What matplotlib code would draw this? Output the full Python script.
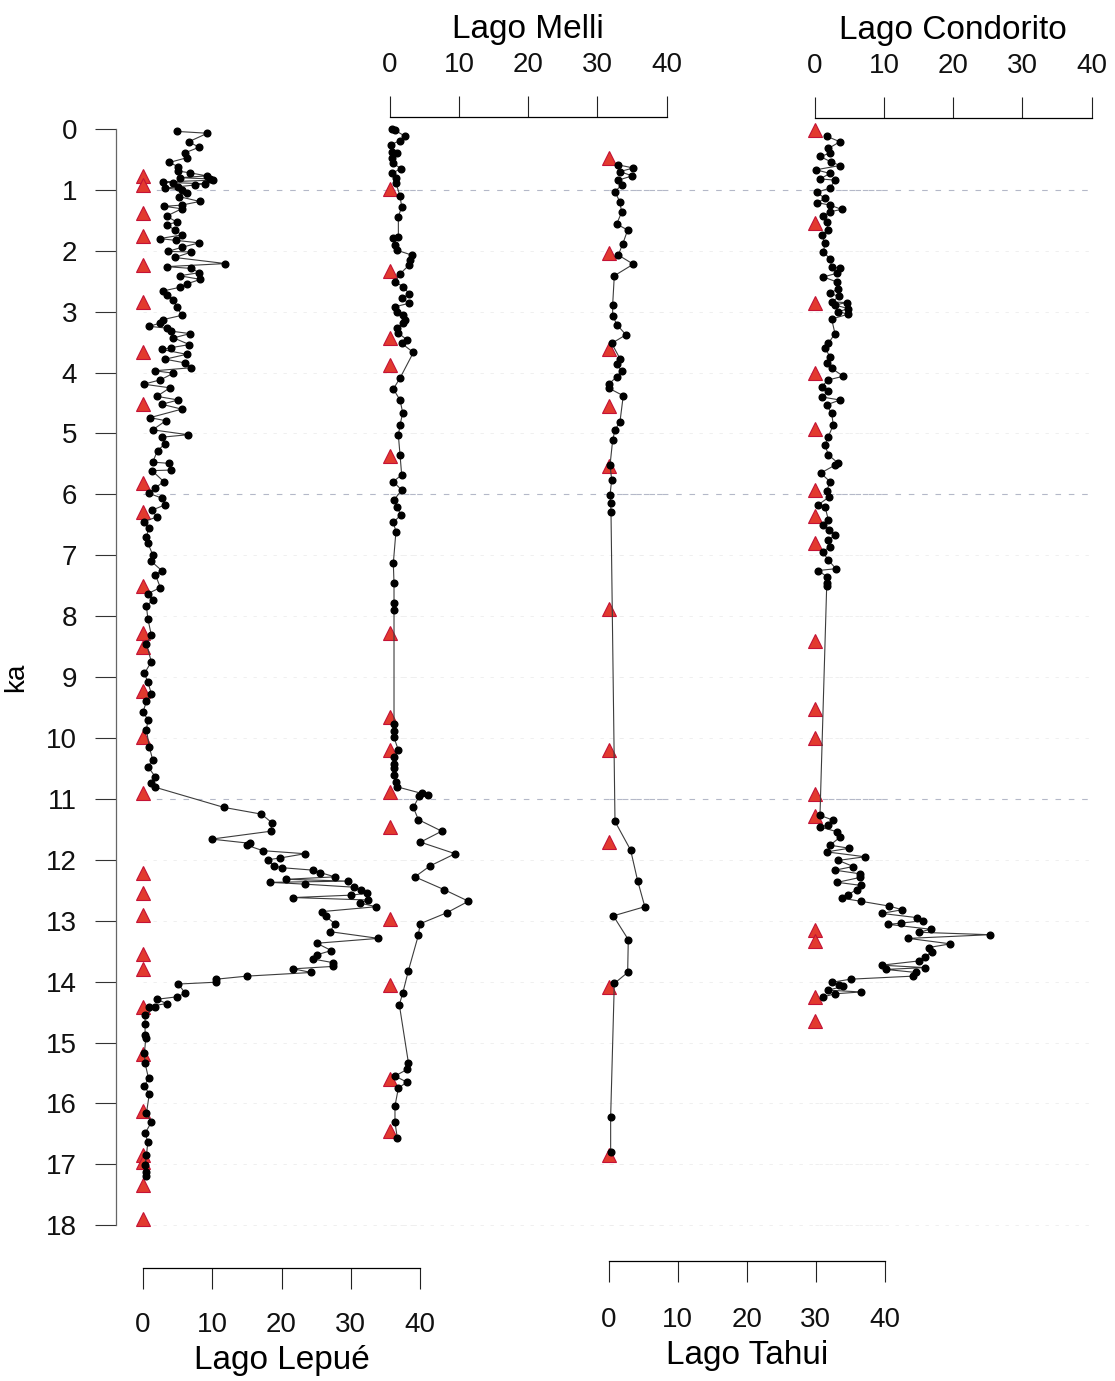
import numpy as np
import matplotlib
matplotlib.use('Agg')
import matplotlib.pyplot as plt

plt.rcParams['font.family'] = ['Liberation Sans', 'DejaVu Sans']

# ---- data (ka, value) ----
lepue_age = [0.04, 0.07, 0.21, 0.30, 0.39, 0.47, 0.55, 0.62, 0.69, 0.72, 0.77, 0.80, 0.82, 0.84, 0.87,
             0.88, 0.90, 0.92, 0.95, 0.97, 1.00, 1.05, 1.11, 1.19, 1.25, 1.27, 1.31, 1.43, 1.53, 1.57,
             1.66, 1.74, 1.80, 1.83, 1.87, 1.94, 2.01, 2.02, 2.11, 2.21, 2.26, 2.29, 2.36, 2.41, 2.47,
             2.54, 2.60, 2.66, 2.72, 2.80, 2.92, 3.06, 3.13, 3.19, 3.24, 3.27, 3.32, 3.36, 3.43, 3.54,
             3.59, 3.62, 3.70, 3.78, 3.84, 3.92, 3.97, 4.01, 4.12, 4.19, 4.25, 4.39, 4.45, 4.52, 4.60,
             4.74, 4.79, 4.94, 5.02, 5.06, 5.17, 5.28, 5.47, 5.49, 5.60, 5.61, 5.79, 5.90, 5.98, 6.06,
             6.17, 6.26, 6.37, 6.45, 6.56, 6.70, 6.80, 6.99, 7.10, 7.25, 7.32, 7.53, 7.63, 7.73, 7.84,
             8.04, 8.31, 8.45, 8.75, 8.94, 9.08, 9.27, 9.40, 9.57, 9.70, 9.87, 10.14, 10.36, 10.47,
             10.64, 10.74, 10.81, 11.14, 11.25, 11.39, 11.53, 11.66, 11.73, 11.76, 11.85, 11.90,
             11.97, 12.00, 12.10, 12.13, 12.17, 12.21, 12.28, 12.32, 12.35, 12.37, 12.40, 12.45,
             12.50, 12.55, 12.58, 12.62, 12.66, 12.71, 12.77, 12.85, 12.93, 13.05, 13.18, 13.29,
             13.37, 13.49, 13.56, 13.63, 13.69, 13.75, 13.79, 13.85, 13.91, 13.96, 14.01, 14.04,
             14.19, 14.25, 14.29, 14.36, 14.41, 14.42, 14.55, 14.69, 14.88, 14.93, 15.18, 15.34,
             15.59, 15.71, 15.85, 16.16, 16.31, 16.49, 16.63, 16.85, 17.01, 17.12, 17.20]
lepue_val = [4.9, 9.3, 6.6, 8.1, 6.1, 6.4, 3.8, 5.1, 5.0, 6.8, 9.2, 5.3, 9.7, 10.1, 2.9,
             4.3, 8.9, 7.5, 5.0, 3.2, 5.7, 6.4, 5.2, 8.2, 5.6, 3.1, 5.6, 3.4, 4.9, 3.4,
             4.6, 5.6, 2.4, 4.8, 8.1, 5.7, 3.6, 7.0, 4.6, 11.9, 3.4, 7.0, 8.1, 5.3, 8.3,
             6.4, 5.3, 2.9, 3.4, 4.3, 4.9, 5.6, 2.9, 2.4, 0.9, 3.4, 4.1, 6.8, 4.4, 6.7,
             4.1, 2.7, 6.3, 3.2, 6.0, 7.0, 1.7, 4.4, 2.5, 0.1, 3.9, 2.0, 5.1, 2.7, 5.6,
             1.0, 3.3, 1.4, 6.5, 2.8, 3.2, 2.1, 1.4, 3.7, 4.1, 1.3, 3.0, 1.7, 0.8, 2.7,
             3.2, 1.3, 2.0, 0.1, 0.8, 0.5, 0.7, 1.4, 1.2, 2.7, 1.8, 2.5, 0.7, 1.4, 0.5,
             0.7, 1.2, 0.5, 1.2, 0.2, 0.7, 1.2, 0.5, 0.0, 0.7, 0.5, 0.9, 1.4, 0.7,
             1.8, 1.2, 1.8, 11.7, 17.1, 18.6, 18.5, 9.9, 15.5, 15.0, 17.3, 23.4,
             19.8, 18.0, 18.9, 20.1, 24.6, 25.6, 27.7, 20.7, 29.6, 18.3, 23.4, 30.5,
             31.5, 32.3, 30.1, 21.7, 32.5, 31.3, 33.7, 25.9, 26.4, 27.7, 27.0, 34.0,
             25.1, 27.2, 25.1, 24.6, 27.5, 27.5, 21.7, 24.3, 15.0, 10.6, 10.5, 5.1,
             6.1, 4.9, 2.0, 3.4, 0.8, 1.8, 0.3, 0.3, 0.3, 0.4, 0.2, 0.3,
             0.8, 0.2, 0.9, 0.5, 1.2, 0.3, 0.7, 0.5, 0.3, 0.5, 0.4]
lepue_dates = [0.77, 0.92, 1.38, 1.76, 2.23, 2.84, 3.66, 4.52, 5.81, 6.29, 7.50, 8.28, 8.50, 9.23,
               9.99, 10.91, 12.21, 12.54, 12.90, 13.54, 13.80, 14.41, 15.19, 16.12, 16.84, 16.96,
               17.34, 17.89]

melli_age = [0.00, 0.02, 0.12, 0.19, 0.26, 0.37, 0.40, 0.48, 0.56, 0.65, 0.73, 0.81, 0.89, 1.10,
             1.28, 1.44, 1.77, 1.79, 1.90, 1.99, 2.07, 2.15, 2.23, 2.38, 2.51, 2.59, 2.71, 2.78,
             2.86, 2.92, 3.00, 3.05, 3.13, 3.19, 3.27, 3.35, 3.46, 3.52, 3.67, 4.09, 4.27, 4.45,
             4.66, 4.86, 5.03, 5.35, 5.68, 5.79, 5.93, 6.09, 6.20, 6.34, 6.46, 6.61, 7.13, 7.46,
             7.79, 7.90, 9.77, 9.88, 9.99, 10.20, 10.31, 10.42, 10.50, 10.61, 10.72, 10.80, 10.91,
             10.93, 10.95, 11.14, 11.34, 11.53, 11.71, 11.90, 12.10, 12.28, 12.49, 12.68, 12.87,
             13.05, 13.24, 13.82, 14.19, 14.38, 15.33, 15.44, 15.55, 15.65, 15.75, 16.04, 16.31,
             16.57]
melli_val = [0.24, 0.72, 2.17, 1.45, 0.10, 0.24, 0.97, 0.24, 0.39, 1.59, 0.24, 0.86, 0.86, 1.45,
             1.69, 1.21, 1.21, 0.48, 0.72, 0.97, 3.14, 2.90, 2.80, 1.45, 0.72, 1.93, 2.80, 1.69,
             2.80, 0.72, 0.97, 1.93, 2.17, 1.93, 0.97, 1.21, 2.42, 1.69, 3.38, 1.45, 0.48, 1.45,
             1.84, 1.45, 1.21, 1.45, 1.69, 0.48, 1.69, 0.58, 1.06, 1.55, 0.48, 0.86, 0.48, 0.58,
             0.58, 0.58, 0.58, 0.58, 0.58, 1.21, 0.58, 0.58, 0.58, 0.58, 0.86, 0.97, 4.59,
             5.56, 4.25, 3.38, 4.10, 7.49, 4.40, 9.42, 5.80, 3.60, 7.83, 11.35, 8.20,
             4.35, 4.10, 2.66, 1.84, 1.35, 2.66, 2.50, 0.72, 2.42, 1.21, 0.72, 0.72,
             1.06]
melli_dates = [0.99, 2.34, 3.44, 3.88, 5.37, 8.28, 9.65, 10.19, 10.89, 11.46, 12.98, 14.06, 15.60,
               16.46]

tahui_age = [0.59, 0.64, 0.70, 0.77, 0.84, 0.92, 1.03, 1.20, 1.37, 1.56, 1.66, 1.89, 2.07, 2.22,
             2.41, 2.89, 3.07, 3.22, 3.38, 3.52, 3.77, 3.86, 3.97, 4.07, 4.18, 4.26, 4.38, 4.81,
             4.94, 5.11, 5.52, 5.76, 6.01, 6.14, 6.29, 11.37, 11.84, 12.34, 12.77, 12.92, 13.31,
             13.85, 14.03, 16.22, 16.79]
tahui_val = [1.35, 3.53, 1.59, 3.38, 1.35, 1.83, 0.87, 1.59, 1.83, 1.11, 2.71, 1.98, 1.35, 3.53,
             0.77, 0.53, 0.53, 1.20, 2.46, 0.39, 1.59, 1.11, 1.83, 1.11, 0.05, 0.05, 2.07, 1.59,
             0.87, 0.53, 0.15, 0.39, 0.15, 0.24, 0.29, 0.87, 3.14, 4.15, 5.20, 0.63, 2.80,
             2.71, 0.77, 0.24, 0.24]
tahui_dates = [0.48, 2.04, 3.61, 4.55, 5.54, 7.88, 10.19, 11.70, 14.09, 16.85]

condorito_age = [0.12, 0.21, 0.32, 0.40, 0.45, 0.54, 0.60, 0.67, 0.73, 0.82, 0.84, 0.97, 1.04, 1.14,
                 1.21, 1.25, 1.32, 1.36, 1.43, 1.52, 1.66, 1.74, 1.88, 2.02, 2.13, 2.26, 2.29, 2.37,
                 2.43, 2.51, 2.62, 2.70, 2.75, 2.84, 2.85, 2.89, 2.95, 3.00, 3.04, 3.12, 3.36, 3.52,
                 3.60, 3.74, 3.85, 3.93, 4.06, 4.12, 4.23, 4.31, 4.40, 4.45, 4.53, 4.67, 4.86, 5.05,
                 5.19, 5.35, 5.49, 5.52, 5.65, 5.79, 5.95, 6.04, 6.17, 6.20, 6.42, 6.50, 6.58, 6.67,
                 6.75, 6.86, 6.94, 7.08, 7.22, 7.25, 7.35, 7.46, 7.51, 11.27, 11.35, 11.43, 11.46,
                 11.54, 11.63, 11.76, 11.81, 11.87, 11.95, 12.01, 12.11, 12.17, 12.23, 12.29, 12.37,
                 12.42, 12.49, 12.57, 12.63, 12.68, 12.76, 12.82, 12.88, 12.95, 13.00, 13.04, 13.06,
                 13.14, 13.19, 13.23, 13.29, 13.38, 13.44, 13.51, 13.60, 13.66, 13.73, 13.77, 13.80,
                 13.85, 13.91, 13.96, 14.01, 14.06, 14.08, 14.14, 14.17, 14.20, 14.25]
condorito_val = [1.69, 3.61, 1.93, 2.17, 0.72, 2.31, 3.61, 0.14, 2.17, 0.72, 2.89, 2.17, 0.24, 1.45,
                 0.34, 2.17, 3.85, 2.17, 1.20, 1.69, 1.93, 0.96, 1.45, 1.20, 2.17, 2.41, 3.61, 3.13,
                 1.20, 3.13, 3.37, 2.17, 3.51, 2.41, 4.58, 2.89, 4.82, 3.37, 4.82, 2.41, 2.89, 1.93,
                 1.45, 2.17, 1.69, 2.41, 4.09, 1.93, 0.96, 1.93, 0.96, 3.61, 1.69, 2.41, 2.65, 1.93,
                 1.45, 1.93, 3.37, 2.89, 0.82, 2.17, 1.69, 2.07, 0.48, 1.45, 1.93, 1.20, 2.07, 2.89,
                 1.93, 2.17, 1.10, 1.93, 3.03, 0.48, 1.69, 1.69, 1.69, 0.72, 2.65, 1.93, 0.72,
                 3.23, 3.61, 2.17, 4.96, 1.69, 7.23, 3.37, 5.54, 2.89, 6.50, 6.50, 3.23,
                 6.65, 6.02, 4.82, 3.85, 6.60, 10.74, 12.62, 9.63, 14.79, 15.56, 12.43, 10.60,
                 16.71, 15.08, 25.30, 13.49, 19.60, 16.47, 16.86, 15.90, 15.08, 9.63, 15.90, 10.26,
                 14.60, 14.21, 5.15, 2.50, 3.51, 4.09, 1.83, 6.65, 2.89, 1.20]
condorito_dates = [0.02, 1.54, 2.85, 4.01, 4.93, 5.92, 6.35, 6.80, 8.40, 9.53, 10.00, 10.92, 11.28,
                   13.15, 13.34, 14.25, 14.64]

ka_ticks = list(range(0, 19))
x_ticks = [0, 10, 20, 30, 40]
grid_strong = [1, 6, 11]
grid_weak = [2, 3, 4, 5, 7, 8, 9, 10, 12, 13, 14, 15, 16, 17, 18]

# ---- figure ----
W, H = 1115.0, 1381.0
fig = plt.figure(figsize=(W / 100, H / 100), dpi=100)
top_px, bot_px = 116.8, 1237.4
ax_bottom = 1 - bot_px / H
ax_height = (bot_px - top_px) / H


def make_ax(x0, x40):
    ax = fig.add_axes([x0 / W, ax_bottom, (x40 - x0) / W, ax_height])
    ax.set_xlim(0, 40)
    ax.set_ylim(18.2, -0.2)
    ax.patch.set_visible(False)
    for s in ax.spines.values():
        s.set_visible(False)
    ax.set_yticks([])
    ax.tick_params(axis='y', left=False, labelleft=False)
    ax.set_xticks(x_ticks)
    ax.tick_params(axis='x', direction='out', length=15, width=0.8, colors='#222222',
                   labelsize=20, labelcolor='#111111')
    for g in grid_strong:
        ax.axhline(g, color='#b4b8c8', lw=0.8, ls=(0, (5, 7)), zorder=0)
    for g in grid_weak:
        ax.axhline(g, color='#ececec', lw=0.6, ls=(0, (4, 8)), zorder=0)
    return ax


def draw(ax, ages, vals, dates):
    ax.plot(np.zeros(len(dates)), dates, linestyle='none', marker='^', ms=10.5,
            mfc='#e23a2e', mec='#c41236', mew=0.8, clip_on=False, zorder=3)
    ax.plot(vals, ages, '-', color='#3c3c3c', lw=0.8, clip_on=False, zorder=4)
    ax.plot(vals, ages, 'o', ms=4.8, color='black', mec='black', clip_on=False, zorder=5)


def bottom_axis(ax, offset, title, pad):
    sp = ax.spines['bottom']
    sp.set_visible(True)
    sp.set_position(('outward', offset))
    sp.set_bounds(0, 40)
    sp.set_linewidth(0.9)
    ax.tick_params(axis='x', pad=pad)
    ax.set_xlabel(title, fontsize=24, labelpad=5)


def top_axis(ax, offset, title, pad):
    ax.xaxis.tick_top()
    ax.xaxis.set_label_position('top')
    sp = ax.spines['top']
    sp.set_visible(True)
    sp.set_position(('outward', offset))
    sp.set_bounds(0, 40)
    sp.set_linewidth(0.9)
    ax.tick_params(axis='x', pad=pad)
    ax.set_xlabel(title, fontsize=24, labelpad=10)


# Lago Lepué (with the age axis)
ax1 = make_ax(143, 420)
draw(ax1, lepue_age, lepue_val, lepue_dates)
bottom_axis(ax1, 22, 'Lago Lepué', 17)
ax1.spines['left'].set_visible(True)
ax1.spines['left'].set_position(('outward', 19.4))
ax1.spines['left'].set_bounds(0, 18)
ax1.spines['left'].set_color('#666666')
ax1.spines['left'].set_linewidth(0.9)
ax1.set_yticks(ka_ticks)
ax1.tick_params(axis='y', left=True, labelleft=True, direction='out', length=15, width=0.8,
                colors='#333333', labelsize=20, labelcolor='#111111', pad=13)
ax1.set_ylabel('ka', fontsize=20, labelpad=12)

# Lago Melli
ax2 = make_ax(390, 666.5)
draw(ax2, melli_age, melli_val, melli_dates)
top_axis(ax2, 0, 'Lago Melli', 13)

# Lago Tahui
ax3 = make_ax(609, 884.5)
draw(ax3, tahui_age, tahui_val, tahui_dates)
bottom_axis(ax3, 17, 'Lago Tahui', 18)

# Lago Condorito
ax4 = make_ax(815, 1091.5)
draw(ax4, condorito_age, condorito_val, condorito_dates)
top_axis(ax4, -1, 'Lago Condorito', 13)

fig.savefig('out.png', dpi=100, facecolor='white')
